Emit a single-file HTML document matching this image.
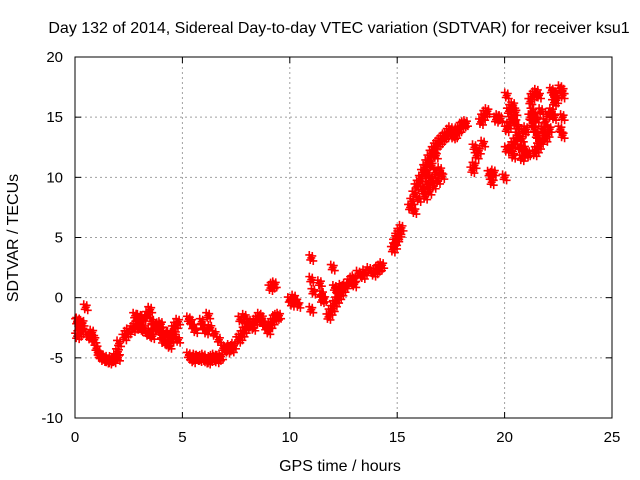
<!DOCTYPE html>
<html><head><meta charset="utf-8"><style>
html,body{margin:0;padding:0;background:#fff;}
svg{display:block;font-family:"Liberation Sans",sans-serif;}
</style></head><body>
<svg id="chart" width="640" height="480" viewBox="0 0 640 480" xmlns="http://www.w3.org/2000/svg">
<text x="339" y="33" font-size="16" text-anchor="middle" fill="#000">Day 132 of 2014, Sidereal Day-to-day VTEC variation (SDTVAR) for receiver ksu1</text>
<text x="340" y="471" font-size="16" text-anchor="middle" fill="#000">GPS time / hours</text>
<text x="18" y="238" font-size="16" text-anchor="middle" fill="#000" transform="rotate(-90 18 238)">SDTVAR / TECUs</text>
<g id="grid"></g>
<g id="ticks"></g>
<g id="points"></g>
<rect x="75" y="57" width="537" height="361" fill="none" stroke="#000" stroke-width="1"/>
</svg>
<script>
const xTicks = [0,5,10,15,20,25];
const yTicks = [-10,-5,0,5,10,15,20];
const gpsHours = [
0.1,0.15,0.2,0.25,0.3,0.35,0.1,0.2,0.3,0.5,0.6,0.7,0.8,0.9,1.0,1.1,1.15,1.2,1.3,1.4,1.5,1.6,1.7,1.8,1.9,2.0,2.0,2.05,2.3,2.4,2.5,
2.7,2.8,2.9,3.0,3.1,3.2,2.8,3.0,3.2,3.4,3.5,3.6,3.7,3.4,3.5,3.6,3.8,3.9,4.0,4.1,4.2,4.0,4.1,4.3,4.4,4.5,4.6,4.7,4.8,4.4,4.6,4.8,
5.3,5.4,5.5,5.6,5.3,5.4,5.5,5.6,5.7,5.8,5.9,6.0,6.1,6.2,6.3,6.4,6.5,6.6,6.7,6.8,6.3,6.5,6.7,6.9,5.9,6.0,6.1,6.2,
7.0,7.1,7.2,7.3,7.4,7.6,7.7,7.8,7.9,8.0,7.7,7.9,8.1,8.2,8.3,8.4,8.5,8.6,8.7,8.8,8.9,9.0,9.1,9.2,9.3,9.4,9.5,9.1,9.2,9.3,
10.0,10.1,10.2,10.3,10.4,11.0,11.0,11.1,11.0,11.4,11.5,11.5,11.6,11.8,11.9,12.0,12.1,12.2,12.3,12.4,12.5,12.0,12.1,12.2,12.4,12.6,12.8,12.9,13.0,
13.0,13.2,13.4,13.5,13.7,13.9,14.0,14.1,14.2,14.3,
14.8,14.9,15.0,15.1,15.2,14.9,15.0,15.1,
15.6,15.7,15.8,15.9,16.0,16.1,16.2,16.3,16.4,16.5,16.6,16.7,16.8,16.9,17.0,17.1,17.2,15.8,16.0,16.2,16.4,16.6,16.8,16.3,16.5,16.7,16.9,17.1,16.4,16.6,16.8,17.0,
17.3,17.4,17.5,17.6,17.7,17.8,17.6,17.9,18.0,18.1,18.2,18.5,18.6,18.7,18.8,18.6,18.9,19.0,19.1,19.2,19.0,19.3,19.4,19.4,19.5,19.6,19.7,19.8,
20.0,20.1,20.1,20.1,20.2,20.3,20.4,20.5,20.2,20.3,20.4,20.5,20.6,20.3,20.4,20.5,20.4,20.6,20.7,20.8,20.9,21.0,21.1,20.8,20.9,21.0,
21.2,21.3,21.4,21.5,21.6,21.2,21.3,21.4,21.5,21.6,21.3,21.4,21.5,21.4,21.5,21.6,21.7,21.8,21.9,22.0,21.7,21.8,21.9,22.0,22.1,22.2,22.3,22.4,22.2,22.3,22.4,22.3,22.6,22.7,22.7,22.6,22.7,22.7
];
const sdtvar = [
-2.0,-1.9,-2.2,-2.5,-2.3,-2.1,-3.2,-3.0,-2.8,-0.8,-3.1,-3.3,-2.9,-3.5,-4.2,-4.6,-4.8,-4.9,-5.1,-5.0,-5.2,-5.3,-5.1,-5.2,-4.9,-5.0,-4.5,-3.8,-3.3,-3.0,-2.8,
-2.6,-2.4,-2.2,-2.5,-2.1,-2.7,-1.5,-1.6,-1.7,-1.4,-1.0,-2.0,-2.5,-3.0,-2.8,-3.2,-2.6,-2.3,-2.9,-3.3,-3.0,-2.2,-3.6,-3.8,-4.0,-3.5,-2.6,-2.3,-2.0,-3.0,-3.2,-3.5,
-1.8,-2.0,-2.4,-2.7,-4.8,-5.0,-5.2,-4.9,-5.0,-5.1,-5.0,-4.9,-5.2,-5.3,-5.1,-5.0,-4.9,-5.2,-5.0,-4.9,-2.5,-3.0,-3.5,-4.2,-2.0,-2.5,-2.8,-1.5,
-4.2,-4.4,-4.1,-4.3,-4.0,-3.5,-3.3,-3.0,-2.7,-2.4,-1.8,-1.6,-2.0,-2.3,-2.5,-2.0,-1.8,-1.5,-1.7,-2.2,-2.5,-2.8,-2.3,-2.0,-1.7,-1.6,-1.5,0.8,1.0,1.1,
-0.2,-0.5,0.0,-0.3,-0.6,3.3,1.5,0.5,-1.0,1.2,-0.2,0.3,-0.1,-1.6,-1.2,-0.9,-0.5,-0.2,0.1,0.4,0.7,2.5,0.8,0.6,0.9,1.0,1.3,1.5,1.1,
1.6,2.0,1.8,2.1,2.3,2.0,2.2,2.4,2.5,2.7,
4.0,4.6,5.1,5.5,5.8,4.3,4.9,5.3,
7.5,8.0,8.6,9.2,9.5,9.9,10.4,10.8,11.2,11.6,12.0,12.3,12.6,12.8,13.0,13.2,13.4,7.2,8.2,9.0,10.2,11.0,11.8,8.4,8.8,9.3,9.7,10.1,9.4,9.9,10.4,10.6,
13.5,13.8,14.0,13.7,13.5,13.9,13.4,14.0,14.3,14.4,14.5,10.6,11.0,11.8,12.2,12.5,14.6,15.0,15.3,15.5,12.8,10.3,10.0,9.6,10.4,14.8,15.0,14.9,
10.0,16.8,14.0,12.3,15.5,15.8,16.0,15.4,14.3,14.8,15.0,14.6,14.2,12.4,12.7,13.0,11.8,13.5,12.5,13.2,13.8,14.0,12.0,11.6,12.4,11.9,
16.3,16.7,16.9,17.1,16.8,15.0,14.5,14.0,13.5,13.0,15.5,15.2,14.8,12.0,12.3,12.6,13.0,14.0,14.6,15.2,15.5,13.8,13.2,13.6,14.0,15.5,16.2,16.8,17.2,17.0,16.4,15.0,17.4,17.2,16.8,14.0,15.0,13.5
];
const NS='http://www.w3.org/2000/svg';
const L=75,R=612,T=57,B=418;
function xs(v){return L+(v-0)/(25-0)*(R-L);}
function ys(v){return B-(v+10)/(30)*(B-T);}
const grid=document.getElementById('grid'),ticks=document.getElementById('ticks'),pts=document.getElementById('points');
function mk(tag,attrs,parent){const e=document.createElementNS(NS,tag);for(const k in attrs)e.setAttribute(k,attrs[k]);parent.appendChild(e);return e;}
xTicks.forEach(v=>{const x=xs(v);
 if(v>0&&v<25){const g=mk('line',{x1:x,y1:T,x2:x,y2:B,stroke:'#a0a0a0','stroke-dasharray':'2,3'},grid);
 
 }
 mk('line',{x1:x,y1:B,x2:x,y2:B-6,stroke:'#000'},ticks);mk('line',{x1:x,y1:T,x2:x,y2:T+6,stroke:'#000'},ticks);
 const t=mk('text',{x:x,y:B+24,'font-size':15,'text-anchor':'middle'},ticks);t.textContent=v;
 
 
});
yTicks.forEach(v=>{const y=ys(v);
 if(v>-10&&v<20){const g=mk('line',{x1:L,y1:y,x2:R,y2:y,stroke:'#a0a0a0','stroke-dasharray':'2,3'},grid);
 
 }
 mk('line',{x1:L,y1:y,x2:L+6,y2:y,stroke:'#000'},ticks);mk('line',{x1:R,y1:y,x2:R-6,y2:y,stroke:'#000'},ticks);
 const t=mk('text',{x:L-12,y:y+5,'font-size':15,'text-anchor':'end'},ticks);t.textContent=v;
 
 
});
const offs=[[0,0],[2,3],[-2,-3],[1,-2],[-1,2]];
gpsHours.forEach((h,i)=>{
 const cx=xs(h),cy=ys(sdtvar[i]);
 offs.forEach(o=>{
  const p=mk('path',{d:`M${cx+o[0]-4} ${cy+o[1]}h8M${cx+o[0]} ${cy+o[1]-4}v8`,stroke:'#ff0000','stroke-width':1.6,fill:'none'},pts);
  
  
 });
});
</script>
</body></html>
